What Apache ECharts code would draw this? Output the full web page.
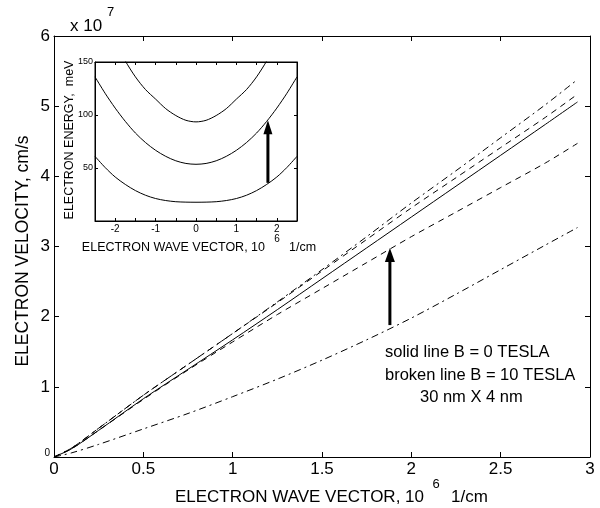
<!DOCTYPE html>
<html><head><meta charset="utf-8">
<script src="https://cdn.jsdelivr.net/npm/echarts@6/dist/echarts.min.js"></script>
<style>html,body{margin:0;padding:0;background:#fff}#c{width:600px;height:508px}</style>
</head><body><div id="c"></div>
<script>
// ---- main chart data (velocity, 10^7 cm/s vs wave vector, 10^6 1/cm)
const kValues      = [0, 0.1, 0.25, 0.5, 0.75, 1, 1.25, 1.5, 1.75, 2, 2.25, 2.5, 2.75, 2.93];
const solidB0      = [0, 0.12, 0.38, 0.83, 1.25, 1.67, 2.10, 2.54, 2.98, 3.42, 3.86, 4.30, 4.74, 5.06];
const brokenTop    = [0, 0.13, 0.41, 0.88, 1.32, 1.76, 2.21, 2.67, 3.14, 3.62, 4.08, 4.55, 5.02, 5.38];
const brokenSecond = [0, 0.13, 0.41, 0.88, 1.32, 1.76, 2.20, 2.65, 3.10, 3.55, 3.98, 4.41, 4.84, 5.17];
const brokenThird  = [0, 0.12, 0.38, 0.82, 1.24, 1.64, 2.03, 2.40, 2.77, 3.14, 3.49, 3.84, 4.19, 4.47];
const brokenBottom = [0, 0.06, 0.18, 0.40, 0.62, 0.86, 1.11, 1.38, 1.67, 1.98, 2.32, 2.67, 3.02, 3.27];
const xTickLabels  = ['0', '0.5', '1', '1.5', '2', '2.5', '3'];
const yTickLabels  = ['0', '1', '2', '3', '4', '5', '6'];
const mainArrow    = [1.88, 1.88, 2.98]; // [k, from v, to v]

// ---- inset data (energy, meV vs wave vector)
const insetK       = [-2.5, -2.25, -2, -1.75, -1.5, -1.25, -1, -0.75, -0.5, -0.25, 0, 0.25, 0.5, 0.75, 1, 1.25, 1.5, 1.75, 2, 2.25, 2.5];
const band1        = [61, 50.5, 41.5, 34.5, 28.7, 24.3, 21.2, 19.3, 18.2, 17.8, 17.7, 17.8, 18.2, 19.3, 21.2, 24.3, 28.7, 34.5, 41.5, 50.5, 61];
const band2        = [136, 120.5, 106.5, 94, 83, 74, 66.7, 61, 56.8, 54.3, 53.5, 54.3, 56.8, 61, 66.7, 74, 83, 94, 106.5, 120.5, 136];
const band3K       = [-2, -1.75, -1.5, -1.25, -1, -0.75, -0.5, -0.25, 0, 0.25, 0.5, 0.75, 1, 1.25, 1.5, 1.75, 2];
const band3        = [169, 151, 136, 124, 115, 106, 99.5, 95, 93.5, 95, 99.5, 106, 115, 124, 136, 151, 169];
const insetArrow   = [1.78, 36, 95];
const insetXTicks  = ['-2', '-1', '0', '1', '2'];
const insetYTicks  = ['50', '100', '150'];

const FONT = "'Liberation Sans', Arial, Helvetica, sans-serif";
const zip = (xs, ys) => xs.map((x, i) => [x, ys[i]]);

function arrowRenderer(headLen, headW, shaftW) {
  return function (params, api) {
    const x = api.value(0), y0 = api.value(1), y1 = api.value(2);
    const p0 = api.coord([x, y0]), p1 = api.coord([x, y1]);
    return {
      type: 'group', children: [
        { type: 'rect', shape: { x: p0[0] - shaftW / 2, y: p1[1] + headLen - 1, width: shaftW, height: p0[1] - p1[1] - headLen + 1 }, style: { fill: '#000' } },
        { type: 'polygon', shape: { points: [[p1[0], p1[1]], [p1[0] - headW / 2, p1[1] + headLen], [p1[0] + headW / 2, p1[1] + headLen]] }, style: { fill: '#000' } }
      ]
    };
  };
}

const axisLineStyle = { show: true, onZero: false, lineStyle: { color: '#000', width: 1 } };
const lineSeries = (name, xs, ys, type, xi, yi) => ({
  name, type: 'line', data: zip(xs, ys), xAxisIndex: xi, yAxisIndex: yi,
  showSymbol: false, symbol: 'none', smooth: 0.3, animation: false,
  lineStyle: { color: '#000', width: 1, type: type }
});
const txt = (x, y, text, size, align, extra) => Object.assign({
  type: 'text', z: 10,
  style: { x, y, text, font: size + 'px ' + FONT, fill: '#000', align: align, verticalAlign: 'middle', textAlign: align, textVerticalAlign: 'middle' }
}, extra || {});

const chart = echarts.init(document.getElementById('c'), null, { renderer: 'canvas' });
chart.setOption({
  backgroundColor: '#fff',
  animation: false,
  textStyle: { fontFamily: FONT, color: '#000' },
  grid: [
    { left: 54, top: 36, width: 536, height: 421, show: false },
    { left: 95, top: 62, width: 202, height: 159, show: true, backgroundColor: '#fff', borderColor: '#000', borderWidth: 1, z: 5 }
  ],
  xAxis: [
    { gridIndex: 0, type: 'value', min: 0, max: 3, interval: 0.5, position: 'bottom',
      axisLine: axisLineStyle, splitLine: { show: false },
      axisTick: { inside: true, length: 5, lineStyle: { color: '#000' } },
      axisLabel: { color: '#000', fontSize: 17, fontFamily: FONT, margin: 4,
        formatter: v => xTickLabels[Math.round(v * 2)] } },
    { gridIndex: 0, type: 'value', min: 0, max: 3, interval: 0.5, position: 'top',
      axisLine: axisLineStyle, splitLine: { show: false },
      axisTick: { inside: true, length: 5, lineStyle: { color: '#000' } }, axisLabel: { show: false } },
    { gridIndex: 1, type: 'value', min: -2.5, max: 2.5, interval: 0.5, position: 'bottom', z: 6,
      axisLine: axisLineStyle, splitLine: { show: false },
      axisTick: { inside: true, length: 3, lineStyle: { color: '#000' } },
      axisLabel: { color: '#000', fontSize: 10, fontFamily: FONT, margin: 3,
        formatter: v => (Math.abs(v - Math.round(v)) < 1e-6 && Math.abs(v) <= 2) ? insetXTicks[Math.round(v) + 2] : '' } },
    { gridIndex: 1, type: 'value', min: -2.5, max: 2.5, interval: 0.5, position: 'top', z: 6,
      axisLine: axisLineStyle, splitLine: { show: false },
      axisTick: { inside: true, length: 3, lineStyle: { color: '#000' } }, axisLabel: { show: false } }
  ],
  yAxis: [
    { gridIndex: 0, type: 'value', min: 0, max: 6, interval: 1, position: 'left',
      axisLine: axisLineStyle, splitLine: { show: false },
      axisTick: { inside: true, length: 5, lineStyle: { color: '#000' } },
      axisLabel: { color: '#000', fontSize: 17, fontFamily: FONT, margin: 4,
        formatter: v => v === 0 ? '{s|' + yTickLabels[0] + '}' : yTickLabels[v],
        rich: { s: { fontSize: 10, fontFamily: FONT, color: '#000', padding: [0, 0, 8, 0] } } } },
    { gridIndex: 0, type: 'value', min: 0, max: 6, interval: 1, position: 'right',
      axisLine: axisLineStyle, splitLine: { show: false },
      axisTick: { inside: true, length: 5, lineStyle: { color: '#000' } }, axisLabel: { show: false } },
    { gridIndex: 1, type: 'value', min: 0, max: 150, interval: 50, position: 'left', z: 6,
      axisLine: axisLineStyle, splitLine: { show: false },
      axisTick: { inside: true, length: 3, lineStyle: { color: '#000' } },
      axisLabel: { color: '#000', fontSize: 9, fontFamily: FONT, margin: 2,
        formatter: v => v === 0 ? '' : insetYTicks[v / 50 - 1] } },
    { gridIndex: 1, type: 'value', min: 0, max: 150, interval: 50, position: 'right', z: 6,
      axisLine: axisLineStyle, splitLine: { show: false },
      axisTick: { inside: true, length: 3, lineStyle: { color: '#000' } }, axisLabel: { show: false } }
  ],
  series: [
    lineSeries('B=10 top', kValues, brokenTop, [7, 4, 2, 4], 0, 0),
    lineSeries('B=10 second', kValues, brokenSecond, [6, 5], 0, 0),
    lineSeries('B=0', kValues, solidB0, 'solid', 0, 0),
    lineSeries('B=10 third', kValues, brokenThird, [6, 5], 0, 0),
    lineSeries('B=10 bottom', kValues, brokenBottom, [7, 4, 2, 4], 0, 0),
    { type: 'custom', xAxisIndex: 0, yAxisIndex: 0, data: [mainArrow], encode: { x: 0, y: [1, 2] },
      renderItem: arrowRenderer(14, 10, 3), animation: false, z: 4 },
    Object.assign(lineSeries('band1', insetK, band1, 'solid', 2, 2), { z: 7 }),
    Object.assign(lineSeries('band2', insetK, band2, 'solid', 2, 2), { z: 7 }),
    Object.assign(lineSeries('band3', band3K, band3, 'solid', 2, 2), { z: 7, clip: true }),
    { type: 'custom', xAxisIndex: 2, yAxisIndex: 2, data: [insetArrow], encode: { x: 0, y: [1, 2] },
      renderItem: arrowRenderer(14, 9, 3), animation: false, z: 8 }
  ],
  graphic: [
    txt(70, 26, 'x 10', 17, 'left'),
    txt(107, 12, '7', 13, 'left'),
    txt(424, 497, 'ELECTRON WAVE VECTOR, 10', 17, 'right'),
    txt(436, 484, '6', 13, 'center'),
    txt(451, 497, '1/cm', 17, 'left'),
    txt(0, 0, 'ELECTRON VELOCITY, cm/s', 17.5, 'center', { x: 23, y: 251, rotation: Math.PI / 2 }),
    txt(0, 0, 'ELECTRON ENERGY,  meV', 12.5, 'center', { x: 70, y: 140, rotation: Math.PI / 2 }),
    txt(265, 248, 'ELECTRON WAVE VECTOR, 10', 12.5, 'right'),
    txt(277, 239, '6', 10, 'center'),
    txt(289, 248, '1/cm', 12.5, 'left'),
    txt(385, 352, 'solid line B = 0 TESLA', 16.5, 'left'),
    txt(385, 375, 'broken line B = 10 TESLA', 16.5, 'left'),
    txt(420, 397, '30 nm X 4 nm', 16.5, 'left')
  ]
});
</script>
</body></html>
